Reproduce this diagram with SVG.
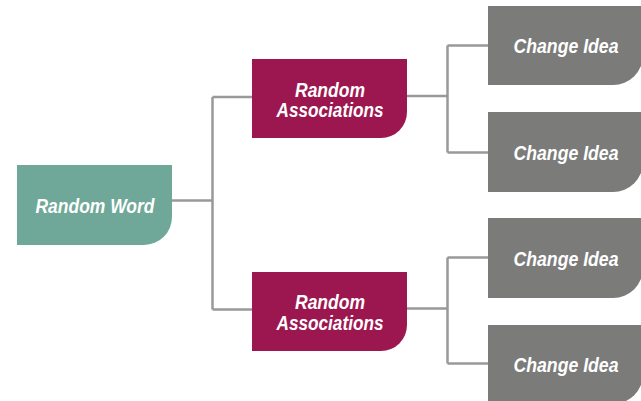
<svg xmlns="http://www.w3.org/2000/svg" width="641" height="401" viewBox="0 0 641 401">
  <style>
    .lbl { font-family: "Liberation Sans", Arial, sans-serif; font-weight: bold; font-style: italic; font-size: 20px; fill: #ffffff; text-anchor: middle; }
    .conn { fill: none; stroke: #999999; stroke-width: 2.5; }
    .word { fill: #6fa898; }
    .assoc { fill: #9c174f; }
    .idea { fill: #7b7b7a; }
  </style>

  <!-- tree connectors -->
  <g id="connectors">
    <path class="conn" d="M172,200.5 H212.5 M212.5,97 V309.5 M212.5,97 H252 M212.5,309.5 H252"/>
    <path class="conn" d="M407,96 H447.5 M447.5,45.5 V152.5 M447.5,45.5 H488 M447.5,152.5 H488"/>
    <path class="conn" d="M407,308.5 H447.5 M447.5,257.5 V363.5 M447.5,257.5 H488 M447.5,363.5 H488"/>
  </g>

  <!-- boxes: square corners except a rounded bottom-right -->
  <g id="random-word">
    <path class="word" d="M17,165 H172 V217 A28,28 0 0 1 144,245 H17 Z"/>
    <text class="lbl" x="95" y="213" textLength="119" lengthAdjust="spacingAndGlyphs">Random Word</text>
  </g>

  <g id="assoc-1">
    <path class="assoc" d="M252,59 H407 V112 A26,26 0 0 1 381,138 H252 Z"/>
    <text class="lbl" x="330" y="97" textLength="70" lengthAdjust="spacingAndGlyphs">Random</text>
    <text class="lbl" x="330" y="117" textLength="107" lengthAdjust="spacingAndGlyphs">Associations</text>
  </g>

  <g id="assoc-2">
    <path class="assoc" d="M252,272 H407 V325 A26,26 0 0 1 381,351 H252 Z"/>
    <text class="lbl" x="330" y="309" textLength="70" lengthAdjust="spacingAndGlyphs">Random</text>
    <text class="lbl" x="330" y="330" textLength="107" lengthAdjust="spacingAndGlyphs">Associations</text>
  </g>

  <g id="idea-1">
    <path class="idea" d="M488,6 H643 V55 A30,30 0 0 1 613,85 H488 Z"/>
    <text class="lbl" x="566" y="53" textLength="105" lengthAdjust="spacingAndGlyphs">Change Idea</text>
  </g>

  <g id="idea-2">
    <path class="idea" d="M488,112 H643 V162 A30,30 0 0 1 613,192 H488 Z"/>
    <text class="lbl" x="566" y="160" textLength="105" lengthAdjust="spacingAndGlyphs">Change Idea</text>
  </g>

  <g id="idea-3">
    <path class="idea" d="M488,218 H643 V268 A30,30 0 0 1 613,298 H488 Z"/>
    <text class="lbl" x="566" y="266" textLength="105" lengthAdjust="spacingAndGlyphs">Change Idea</text>
  </g>

  <g id="idea-4">
    <path class="idea" d="M488,325 H643 V374 A30,30 0 0 1 613,404 H488 Z"/>
    <text class="lbl" x="566" y="372" textLength="105" lengthAdjust="spacingAndGlyphs">Change Idea</text>
  </g>
</svg>
